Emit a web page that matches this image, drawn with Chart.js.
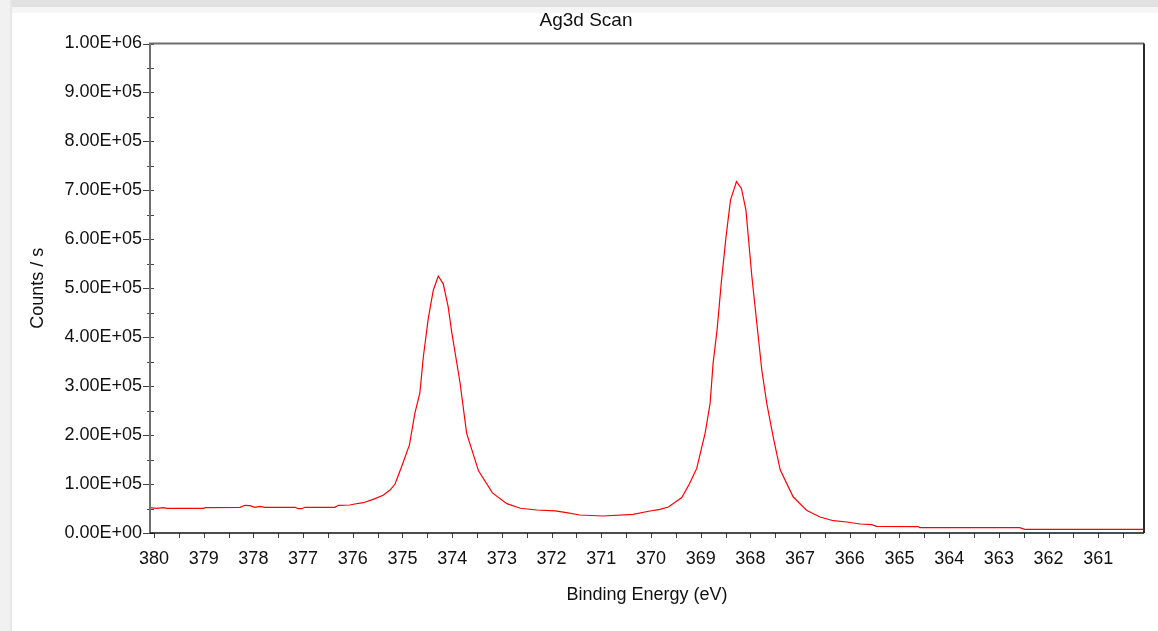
<!DOCTYPE html>
<html>
<head>
<meta charset="utf-8">
<script src="https://cdn.jsdelivr.net/npm/chart.js@4"></script>
<style>
  html, body { margin: 0; padding: 0; background: #fff; overflow: hidden; }
  #topbar { position: absolute; left: 0; top: 0; width: 1158px; height: 7px; background: #e1e1e1; }
  #topbar2 { position: absolute; left: 0; top: 7px; width: 1158px; height: 6px; background: #f6f6f6; }
  #leftbar { position: absolute; left: 0; top: 0; width: 10px; height: 631px; background: #f1f1f1; border-right: 2px solid #e8e8e8; }
  #wrap { position: absolute; left: 0; top: 0; width: 1158px; height: 631px; }
</style>
</head>
<body>
<div id="topbar"></div>
<div id="topbar2"></div>
<div id="leftbar"></div>
<div id="wrap"><canvas id="xps"></canvas></div>
<script>
// Ag3d scan
const energy = [380.08, 379.95, 379.81, 379.74, 379.0, 378.97, 378.27, 378.17, 378.07, 377.97,
  377.87, 377.77, 377.16, 377.10, 377.03, 376.96, 376.36, 376.29, 376.06, 375.96,
  375.79, 375.59, 375.39, 375.25, 375.15, 375.02, 374.86, 374.75, 374.65, 374.58,
  374.48, 374.38, 374.28, 374.18, 374.08, 374.01, 373.84, 373.71, 373.47, 373.19,
  372.9, 372.63, 372.3, 371.93, 371.70, 371.43, 370.96, 370.36, 370.02, 369.82,
  369.65, 369.38, 369.22, 369.08, 368.91, 368.81, 368.75, 368.67, 368.58, 368.49,
  368.40, 368.28, 368.18, 368.09, 367.97, 367.87, 367.77, 367.67, 367.54, 367.40,
  367.14, 366.87, 366.60, 366.33, 366.06, 365.79, 365.56, 365.46, 364.62, 364.59,
  362.58, 362.48, 360.08];
const counts = [51700, 50500, 51700, 50500, 50500, 51700, 52500, 56600, 55800, 52500,
  54500, 52500, 52500, 49600, 49600, 52500, 52500, 56600, 57200, 59200,
  61900, 68800, 77000, 87800, 100000, 135000, 180000, 245000, 286000, 360000,
  439000, 496000, 525000, 509000, 462000, 411000, 306000, 204000, 127000, 82000,
  60000, 50500, 47000, 45000, 41500, 36800, 34700, 38200, 45000, 48400,
  53000, 72500, 101500, 132000, 204000, 265000, 347000, 415000, 517000, 605000,
  680000, 718000, 704000, 660000, 524000, 428000, 333000, 265000, 196000, 129000,
  74000, 46400, 32700, 25100, 22500, 18400, 17000, 13700, 12900, 10800,
  10800, 7600, 7600];

const xTicks = [380, 379, 378, 377, 376, 375, 374, 373, 372, 371, 370, 369, 368, 367, 366, 365, 364, 363, 362, 361];
const yTicks = [0, 100000, 200000, 300000, 400000, 500000, 600000, 700000, 800000, 900000, 1000000];

function sci(v) {
  const s = Number(v).toExponential(2).toUpperCase();
  const [m, e] = s.split('E');
  const sign = e[0];
  const d = e.slice(1).padStart(2, '0');
  return m + 'E' + sign + d;
}

// frame, tick marks and title like the original instrument software
const frame = {
  id: 'frame',
  afterDraw(chart) {
    const ctx = chart.ctx;
    const a = chart.chartArea;
    const xs = chart.scales.x, ys = chart.scales.y;
    ctx.save();
    ctx.strokeStyle = '#444';
    ctx.lineWidth = 1;
    for (let v = 0; v <= 1000000; v += 50000) {
      const py = Math.round(ys.getPixelForValue(v)) + 0.5;
      const major = v % 100000 === 0;
      ctx.beginPath();
      ctx.moveTo(a.left - (major ? 7 : 3), py);
      ctx.lineTo(a.left + 4, py);
      ctx.stroke();
    }
    for (let v = 360.5; v <= 380; v += 0.5) {
      const px = Math.round(xs.getPixelForValue(v)) + 0.5;
      ctx.beginPath();
      ctx.moveTo(px, a.bottom);
      ctx.lineTo(px, a.bottom + 5);
      ctx.stroke();
    }
    ctx.lineWidth = 2;
    ctx.strokeStyle = '#6e6e6e';
    ctx.beginPath();
    ctx.moveTo(a.left, a.bottom);
    ctx.lineTo(a.left, a.top);
    ctx.lineTo(a.right, a.top);
    ctx.stroke();
    ctx.strokeStyle = '#2a2a2a';
    ctx.beginPath();
    ctx.moveTo(a.right, a.top);
    ctx.lineTo(a.right, a.bottom);
    ctx.stroke();
    ctx.strokeStyle = '#111';
    ctx.lineWidth = 1.5;
    ctx.beginPath();
    ctx.moveTo(a.left, a.bottom);
    ctx.lineTo(a.right, a.bottom);
    ctx.stroke();
    ctx.fillStyle = '#111';
    ctx.font = '19px "Liberation Sans", Arial, sans-serif';
    ctx.textAlign = 'center';
    ctx.textBaseline = 'alphabetic';
    ctx.fillText('Ag3d Scan', 586, 26);
    ctx.restore();
  }
};

const labelFont = { family: '"Liberation Sans", Arial, sans-serif', size: 18 };

const chartElement = document.getElementById('xps');
const myChart = new Chart(chartElement, {
  type: 'line',
  data: {
    datasets: [{
      label: 'Ag3d',
      data: energy.map((e, i) => ({ x: e, y: counts[i] })),
      borderColor: '#ff0000',
      borderWidth: 1.2,
      pointRadius: 0,
      tension: 0,
      fill: false
    }]
  },
  options: {
    responsive: true,
    maintainAspectRatio: false,
    animation: false,
    devicePixelRatio: 1,
    layout: { padding: { left: 20, right: 14, top: 43.5, bottom: 20 } },
    plugins: {
      legend: { display: false },
      tooltip: { enabled: false }
    },
    scales: {
      x: {
        type: 'linear',
        reverse: true,
        min: 360.08,
        max: 380.08,
        afterBuildTicks: s => { s.ticks = xTicks.map(v => ({ value: v })); },
        afterFit: s => { s.height = 78; },
        grid: { display: false, drawTicks: false },
        border: { display: false },
        ticks: {
          padding: 15,
          color: '#111',
          autoSkip: false,
          maxRotation: 0,
          font: labelFont
        },
        title: {
          display: true,
          text: 'Binding Energy (eV)',
          color: '#111',
          padding: { top: 0, bottom: 5 },
          font: labelFont
        }
      },
      y: {
        min: 0,
        max: 1000000,
        afterBuildTicks: s => { s.ticks = yTicks.map(v => ({ value: v })); },
        afterFit: s => { s.width = 130; },
        grid: { display: false, drawTicks: false },
        border: { display: false },
        ticks: {
          padding: 8,
          color: '#111',
          callback: v => sci(v),
          font: labelFont
        },
        title: {
          display: true,
          text: 'Counts / s',
          color: '#111',
          padding: { top: 7, bottom: 0 },
          font: labelFont
        }
      }
    }
  },
  plugins: [frame]
});
</script>
</body>
</html>
